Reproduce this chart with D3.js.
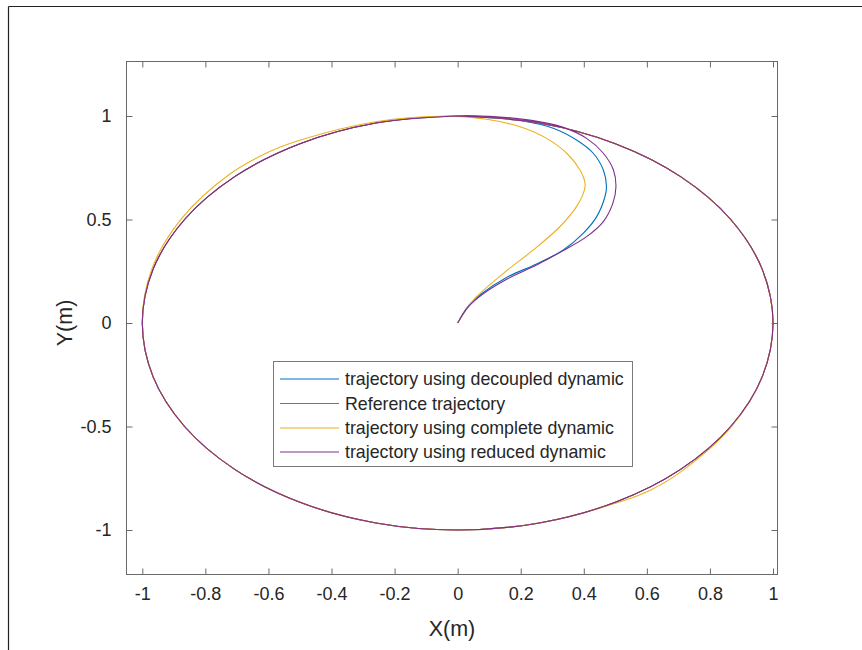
<!DOCTYPE html>
<html><head><meta charset="utf-8">
<script src="https://cdn.jsdelivr.net/npm/d3@7"></script>
<style>body{margin:0;background:#fff}svg{display:block}</style>
</head><body>
<script>
// ---------- data ----------
const xTicks = [-1,-0.8,-0.6,-0.4,-0.2,0,0.2,0.4,0.6,0.8,1];
const xTickLabels = ["-1","-0.8","-0.6","-0.4","-0.2","0","0.2","0.4","0.6","0.8","1"];
const yTicks = [-1,-0.5,0,0.5,1];
const yTickLabels = ["-1","-0.5","0","0.5","1"];
const seriesNames = ["trajectory using decoupled dynamic","Reference trajectory","trajectory using complete dynamic","trajectory using reduced dynamic"];
const seriesColors = ["#0072BD","#D95319","#EDB120","#7E2F8E"];

// Reference trajectory (closed unit circle)
const refX = [1,0.966,0.866,0.707,0.5,0.259,0,-0.259,-0.5,-0.707,-0.866,-0.966,-1,-0.966,-0.866,-0.707,-0.5,-0.259,0,0.259,0.5,0.707,0.866,0.966];
const refY = [0,0.259,0.5,0.707,0.866,0.966,1,0.966,0.866,0.707,0.5,0.259,0,-0.259,-0.5,-0.707,-0.866,-0.966,-1,-0.966,-0.866,-0.707,-0.5,-0.259];

// decoupled dynamic
const decX = [0,0.03,0.075,0.155,0.25,0.335,0.398,0.441,0.467,0.472,0.462,0.430,0.377,0.303,0.198,0.092,0,
  -0.259,-0.5,-0.707,-0.866,-0.966,-1,-0.966,-0.866,-0.707,-0.5,-0.259,0,0.259,0.5,0.707,0.866,0.966,1,0.966,0.866,0.707,0.5,0.259,0];
const decY = [0,0.075,0.14,0.22,0.285,0.353,0.433,0.514,0.610,0.658,0.739,0.820,0.884,0.941,0.978,0.996,1,
  0.966,0.866,0.707,0.5,0.259,0,-0.259,-0.5,-0.707,-0.866,-0.966,-1,-0.966,-0.866,-0.707,-0.5,-0.259,0,0.259,0.5,0.707,0.866,0.966,1];

// complete dynamic
const comX = [0,0.025,0.06,0.145,0.24,0.324,0.377,0.402,0.404,0.388,0.346,0.282,0.198,0.092,-0.014,
  -0.260,-0.508,-0.596,-0.721,-0.875,-0.970,-1,-0.966,-0.866,-0.707,-0.5,-0.259,0,0.259,0.503,0.609,0.713,0.868,0.966,1,0.966,0.866,0.707,0.5,0.259,0];
const comY = [0,0.06,0.127,0.24,0.353,0.465,0.562,0.643,0.675,0.739,0.820,0.892,0.948,0.984,0.998,
  0.972,0.879,0.828,0.721,0.505,0.260,0,-0.259,-0.5,-0.707,-0.866,-0.966,-1,-0.966,-0.870,-0.809,-0.713,-0.501,-0.259,0,0.259,0.5,0.707,0.866,0.966,1];

// reduced dynamic
const redX = [0,0.035,0.08,0.16,0.25,0.335,0.409,0.462,0.492,0.502,0.494,0.462,0.409,0.335,0.229,0.1,0,
  -0.259,-0.5,-0.707,-0.866,-0.966,-1,-0.966,-0.866,-0.707,-0.5,-0.259,0,0.259,0.5,0.707,0.866,0.966,1,0.966,0.866,0.707,0.5,0.259,0];
const redY = [0,0.08,0.14,0.215,0.28,0.35,0.417,0.49,0.578,0.658,0.739,0.820,0.892,0.945,0.98,0.998,1,
  0.966,0.866,0.707,0.5,0.259,0,-0.259,-0.5,-0.707,-0.866,-0.966,-1,-0.966,-0.866,-0.707,-0.5,-0.259,0,0.259,0.5,0.707,0.866,0.966,1];

// ---------- drawing ----------
const W = 862, H = 650;
const svg = d3.select("body").append("svg").attr("width", W).attr("height", H);
const font = "'Liberation Sans', Arial, Helvetica, sans-serif";
const txt = "#262626", axc = "#6a6a6a";
const tickFs = "18px", legFs = "17.8px", labFs = "21.5px";

// figure border (cropped window)
svg.append("line").attr("x1", 8.5).attr("y1", 6.5).attr("x2", W).attr("y2", 6.5).attr("stroke", "#222").attr("stroke-width", 1.2);
svg.append("line").attr("x1", 8.5).attr("y1", 6.5).attr("x2", 8.5).attr("y2", H).attr("stroke", "#222").attr("stroke-width", 1.2);

const L = 126.5, R = 777.5, T = 61.5, B = 574.5;
const x = d3.scaleLinear().domain([-1, 1]).range([142.3, 773]);
const y = d3.scaleLinear().domain([-1, 1]).range([530, 116]);

const g = svg.append("g");
svg.append("clipPath").attr("id", "clip").append("rect").attr("x", L).attr("y", T).attr("width", R - L).attr("height", B - T);

const line = d3.line().x(d => x(d[0])).y(d => y(d[1])).curve(d3.curveCatmullRom.alpha(0.5));
const lineClosed = d3.line().x(d => x(d[0])).y(d => y(d[1])).curve(d3.curveCatmullRomClosed.alpha(0.5));

const series = [
  {pts: d3.zip(decX, decY), color: seriesColors[0], closed: false},
  {pts: d3.zip(refX, refY), color: seriesColors[1], closed: true},
  {pts: d3.zip(comX, comY), color: seriesColors[2], closed: false},
  {pts: d3.zip(redX, redY), color: seriesColors[3], closed: false}
];
const plot = g.append("g").attr("clip-path", "url(#clip)");
series.forEach(s => {
  plot.append("path").attr("d", (s.closed ? lineClosed : line)(s.pts))
    .attr("fill", "none").attr("stroke", s.color).attr("stroke-width", 1.1);
});

// axes box
g.append("rect").attr("x", L).attr("y", T).attr("width", R - L).attr("height", B - T)
  .attr("fill", "none").attr("stroke", axc).attr("stroke-width", 1);

// ticks via d3 axes (inward)
const xb = d3.axisBottom(x).tickValues(xTicks).tickSizeInner(-6).tickSizeOuter(0).tickPadding(13)
  .tickFormat((d, i) => xTickLabels[i]);
const xt = d3.axisTop(x).tickValues(xTicks).tickSizeInner(-6).tickSizeOuter(0).tickFormat("");
const yl = d3.axisLeft(y).tickValues(yTicks).tickSizeInner(-6).tickSizeOuter(0).tickPadding(15)
  .tickFormat((d, i) => yTickLabels[i]);
const yr = d3.axisRight(y).tickValues(yTicks).tickSizeInner(-6).tickSizeOuter(0).tickFormat("");

function style(sel) {
  sel.select(".domain").remove();
  sel.selectAll(".tick line").attr("stroke", axc);
  sel.selectAll(".tick text").attr("fill", txt).style("font-family", font).style("font-size", tickFs);
}
g.append("g").attr("transform", `translate(0,${B})`).call(xb).call(style);
g.append("g").attr("transform", `translate(0,${T})`).call(xt).call(style);
g.append("g").attr("transform", `translate(${L},0)`).call(yl).call(style);
g.append("g").attr("transform", `translate(${R},0)`).call(yr).call(style);

// axis labels
svg.append("text").attr("x", 452).attr("y", 636).attr("text-anchor", "middle")
  .attr("fill", txt).style("font-family", font).style("font-size", labFs).text("X(m)");
svg.append("text").attr("transform", "translate(72,323) rotate(-90)").attr("text-anchor", "middle")
  .attr("fill", txt).style("font-family", font).style("font-size", labFs).text("Y(m)");

// legend
const lg = svg.append("g");
lg.append("rect").attr("x", 273.5).attr("y", 361.5).attr("width", 359).attr("height", 105)
  .attr("fill", "#fff").attr("stroke", "#7a7a7a").attr("stroke-width", 1);
const rowY = [379, 403.5, 428, 452];
seriesNames.forEach((n, i) => {
  lg.append("line").attr("x1", 280).attr("x2", 339).attr("y1", rowY[i]).attr("y2", rowY[i])
    .attr("stroke", seriesColors[i]).attr("stroke-width", 1.1);
  lg.append("text").attr("x", 345).attr("y", rowY[i]).attr("dy", "0.35em")
    .attr("fill", txt).style("font-family", font).style("font-size", legFs).text(n);
});
</script>
</body></html>
